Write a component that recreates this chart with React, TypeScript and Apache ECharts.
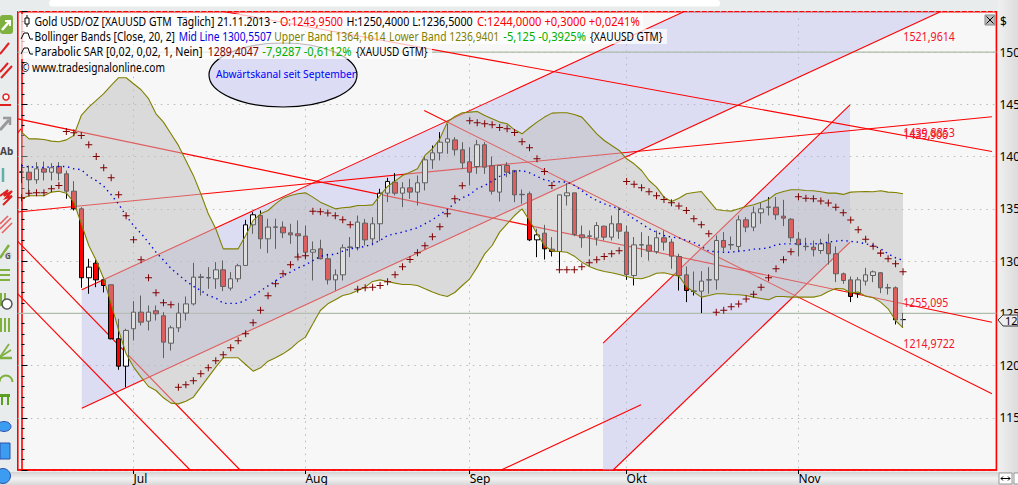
import React, { useEffect, useRef } from "react";
import * as echarts from "echarts";

// Trading days from 10 June 2013; the plot runs on 12 empty days past the last candle.
const monthStarts: Record<number, string> = { 15: "Jul", 38: "Aug", 60: "Sep", 81: "Okt", 104: "Nov" };
const categoryCount = 131;
const categories: string[] = [];
{
  const d = new Date(Date.UTC(2013, 5, 10));
  while (categories.length < categoryCount) {
    const wd = d.getUTCDay();
    if (wd !== 0 && wd !== 6) categories.push(d.toISOString().slice(0, 10));
    d.setUTCDate(d.getUTCDate() + 1);
  }
}

// open, close, low, high
const candles: number[][] = [
  [1385.1,1385.3,1374.6,1393],[1385.1,1377.8,1362.8,1391.5],[1377.8,1388.3,1374,1394.7],[1388.3,1385.1,1377.2,1395.3],
  [1385.1,1389.3,1377.2,1393.7],[1390.6,1384.2,1377.2,1394.7],[1383.5,1366.9,1359.6,1386.7],[1366.9,1350,1348.4,1376.5],
  [1350,1284,1274.4,1351.6],[1284,1294.2,1268.7,1302.2],[1298,1282,1275,1301.2],[1282,1276.6,1270,1284.6],
  [1277.3,1225.6,1225,1277.3],[1225.6,1199.4,1195.9,1244.7],[1199.4,1233.6,1179.3,1235.2],[1235.2,1251.1,1224,1261.6],
  [1251.1,1241.5,1238.3,1267],[1242.5,1251.1,1233.6,1257.5],[1252.4,1249.5,1243.1,1257.5],[1247.6,1222.4,1207.1,1251.1],
  [1221.4,1236.1,1214.4,1238.3],[1236.1,1250.2,1232,1260],[1250.2,1259,1243.1,1266.1],[1259,1284.6,1257.5,1298.3],
  [1284.3,1284.9,1267,1287.8],[1283.8,1284.2,1273.4,1294.2],[1283,1291.6,1273.4,1299],[1291.6,1275.7,1271.2,1300.6],
  [1274.1,1283,1271.8,1289.4],[1283,1295.5,1279.8,1297.4],[1295.8,1334.7,1295.8,1339.5],[1334.7,1344.3,1326.1,1346.8],
  [1343.6,1321.3,1311.7,1348.4],[1321.3,1332.5,1307.6,1340.5],[1332.3,1332.7,1311.7,1340.5],[1332.5,1327,1322,1337.9],
  [1327,1325.1,1316.5,1335.7],[1326.1,1324.2,1303.8,1338.9],[1323.9,1308.5,1303.8,1334.1],[1308.5,1310.8,1281.4,1318.8],
  [1311.7,1302.2,1301.6,1320.4],[1302.2,1282,1277.6,1307],[1282,1286.8,1271.8,1292],[1286.8,1312.7,1281.4,1316],
  [1313,1313.5,1303.7,1323],[1312.7,1337.3,1310.1,1343.6],[1336.3,1320.3,1314.9,1340.4],[1321.3,1335.7,1314.9,1342],
  [1335.7,1365,1319.1,1369.2],[1365,1376.2,1356.4,1379.7],[1375.5,1365,1362.8,1384.2],[1365,1370.1,1351.6,1375.5],
  [1370.1,1366,1359.6,1378.7],[1366,1374.9,1353.2,1381.9],[1374.9,1396.9,1367.6,1400.4],[1396.9,1403.6,1388.3,1410.6],
  [1403.6,1413.8,1396.3,1423.4],[1413.8,1417,1402.7,1431.4],[1416,1406.5,1401.1,1418.6],[1406.5,1394,1388.3,1413.8],
  [1395,1385.1,1372.4,1409],[1390.5,1411.3,1383.5,1416],[1411.3,1389.9,1383.5,1413.8],[1391.2,1366.9,1363.7,1400.1],
  [1366,1391.5,1357,1391.5],[1391.5,1385.1,1380.3,1394.7],[1386.7,1363.4,1356.4,1386.7],[1363.5,1363.9,1354.8,1368.5],
  [1364.4,1320.3,1319.1,1366.6],[1320.3,1325.1,1303.7,1330.9],[1326.7,1311.7,1301.5,1334.7],[1311.4,1309.2,1304.4,1322.9],
  [1309.2,1363.4,1291,1363.4],[1362.5,1365.3,1353.2,1374.6],[1365.3,1325.4,1323.8,1365.3],[1325.1,1322.3,1312.7,1334],
  [1323.7,1324.1,1304.7,1329.3],[1322,1334,1314.9,1337.3],[1333.4,1322.9,1319.7,1334],[1322.9,1335.7,1319.7,1343.6],
  [1335.7,1328.6,1321.3,1351.6],[1327.7,1287.2,1282,1334],[1286.2,1315.5,1276.6,1323],[1315.3,1315.7,1303.7,1327.7],
  [1315.2,1309.5,1300.5,1324],[1309,1322.3,1307,1329.3],[1322.3,1318.1,1310.1,1329.3],[1318.1,1304.7,1292.6,1321.3],
  [1304.4,1286.2,1271.8,1307],[1286.8,1271.8,1260.7,1294.8],[1271,1271.4,1267,1290],[1271.2,1280.8,1250.2,1290.4],
  [1281.8,1282.2,1268.7,1294.2],[1282,1319.7,1272.5,1324.5],[1319.7,1313.3,1309.5,1327.7],[1315.4,1315.8,1310.8,1323.5],
  [1314,1339.5,1308.5,1343.6],[1339.5,1332.5,1327.7,1342],[1332.5,1346.2,1328.6,1352.3],[1346.2,1350,1335.7,1356.4],
  [1351.4,1351.8,1343.6,1361.2],[1351.6,1344.3,1339.5,1361.2],[1343,1341.1,1333.4,1358.6],[1340.1,1322.3,1318.1,1341.1],
  [1321,1315.6,1304.4,1327.7],[1313.8,1314.2,1310.1,1322.3],[1313.3,1310.8,1304.4,1319.7],[1310.1,1316.5,1307,1321.3],
  [1317.2,1307,1296.7,1326.1],[1307,1287.8,1279.8,1314],[1287.8,1281.4,1278.2,1289],[1282,1266.1,1260.7,1285.2],
  [1268.7,1282,1264.8,1284.6],[1280.8,1286.8,1276.6,1293.5],[1286.2,1289.7,1279.8,1291],[1288.8,1274.4,1269.3,1289.4],
  [1274.2,1274.6,1268,1278.2],[1274.4,1243.8,1239.3,1275.7],[1243.95,1244,1236.5,1250.4],
];

const upperBand = [
  1423.5,1417,1417,1416.4,1414.8,1414.2,1416,1420.3,1439.4,1447.4,1453.8,1460.2,1468.1,1475.5,1475.5,1469.7,1464,1455.4,1441,1433,
  1421.9,1410.7,1396.3,1382,1364.4,1345.2,1330.9,1311.7,1311.7,1311.7,1324.5,1338.9,1345.2,1348.4,1354.8,1360.2,1362.8,1364.4,1365.3,1361.2,
  1356.4,1353.2,1350,1351,1351.6,1353.2,1353.2,1353.8,1362.8,1371.4,1376.5,1381.9,1385.1,1388.3,1401.1,1407.5,1417,1433,1438.4,1441.9,
  1442.6,1443.2,1439.4,1436.2,1433,1431.4,1425.6,1421.8,1427.6,1433,1437.8,1441.6,1441.9,1441.9,1440.3,1437.8,1429.8,1421.8,1415.4,1410.6,
  1405.9,1397.9,1393.1,1386.7,1377.1,1370.8,1361.2,1357,1360.2,1364.4,1365.7,1366.6,1358,1349.4,1348.4,1347.8,1350,1352.3,1353.9,1356.4,
  1359,1364.4,1366.6,1368.2,1368.2,1367.6,1367.3,1366.3,1365,1365,1363.8,1366,1366.3,1366.6,1366.3,1367.3,1366,1365.7,1364.4,
];
const lowerBand = [
  1359.6,1362.5,1362.5,1362.5,1366,1366.9,1365,1356.4,1335.7,1314.9,1300.6,1283,1259,1233.6,1211.2,1198.5,1188.9,1179.9,1176.1,1169.1,
  1164,1163.3,1165.9,1169.7,1179.3,1188.9,1198.5,1207.4,1207.4,1207.4,1201,1194.6,1197.8,1204.2,1207.4,1211.2,1216,1222.4,1227.2,1239.9,
  1252.7,1259.1,1262.9,1267.1,1268.7,1271.9,1275,1280.5,1282,1280.5,1278.9,1277.6,1277.6,1276.6,1273.4,1270.3,1267.7,1266.1,1269.9,1276.6,
  1283,1294.2,1306.9,1314.9,1327.7,1335.7,1343.6,1350,1338.8,1326.1,1314.9,1309.5,1309.2,1308.5,1304.7,1299,1294.8,1292,1290,1288.8,
  1287.2,1285.2,1283.6,1283,1285.2,1288.4,1288.8,1287.2,1285.6,1275.7,1270.3,1265.5,1267,1268.7,1268.7,1268,1267.7,1267,1265.5,1264.2,
  1262.9,1266.1,1266.1,1265.5,1265.5,1265.5,1265.5,1267,1270.9,1273.8,1273.4,1269.6,1270.3,1266.4,1264.8,1260.7,1254.3,1243.1,1236.1,
];
const midLine = [
  1391.5,1390,1390,1389.5,1390.4,1390.5,1390.5,1388.3,1387.5,1381,1377,1371.6,1363.5,1354.5,1343.3,1334,1326.5,1317.7,1308.5,1301,
  1293,1287,1281,1275.9,1271.8,1267,1264.7,1259.5,1259.5,1259.5,1262.7,1266.7,1271.5,1276.3,1281.1,1285.7,1289.4,1293.4,1296.3,1300.5,
  1304.5,1306.1,1306.4,1309.5,1311.7,1312.7,1314,1316.5,1319.7,1324.5,1326.1,1327.7,1329.9,1331.8,1335.7,1339.5,1344.6,1349.4,1355.4,1360.6,
  1363.7,1369.2,1372.4,1376.5,1381,1383.5,1385.8,1386.7,1384.5,1381,1377.8,1376.2,1375.9,1375.6,1372.4,1367.6,1361.8,1358,1354.8,1352.3,
  1350,1345.2,1340.4,1335.7,1330.9,1327.7,1324.5,1322.9,1322.3,1319.7,1317.8,1314,1309.5,1308.9,1308.5,1308.5,1309.5,1310.1,1311.4,1311.7,
  1312.7,1315.6,1316.5,1316.5,1316.5,1316.5,1316.5,1316.8,1318.1,1319.1,1319.7,1318.8,1318.1,1316.5,1314.9,1311.7,1307,1303.1,1300.6,
];
const parabolicSar = [
  1360.6,1365,1365.3,1365.3,1369.2,1372.4,1424.1,1422.8,1420.3,1411.3,1400.2,1389.3,1379.7,1363.4,1343.3,1320.4,1301.2,1284,1269.6,1260,
  1258.1,1179.3,1181.5,1185.4,1192.1,1197.8,1204.5,1210.3,1217,1223.7,1230.4,1240.9,1253,1266.7,1278.2,1287.8,1296.4,1303.8,1305,1347.8,
  1347.2,1345.9,1343.3,1339.5,1334.7,1273.1,1274.4,1275,1276.6,1280.1,1286.8,1294.5,1301.5,1307.9,1314.6,1323.2,1332.8,1345.2,1359.6,1372,
  1434.3,1432.3,1431.4,1430.4,1427.9,1426.6,1423.1,1414.2,1408.4,1397.9,1385.8,1372.4,1291.6,1291.6,1291.6,1294.5,1298.3,1301.2,1304.4,1306.9,
  1309.8,1376.2,1373.6,1370.1,1366.3,1362.5,1358.9,1355.8,1352.6,1348.4,1340.5,1334.7,1326.1,1251.1,1253,1256.2,1258.8,1263.6,1268.3,1275,
  1284,1292.6,1301.2,1308.9,1361.5,1360.2,1359.6,1357.4,1355.5,1351.6,1346.2,1339.2,1329.9,1321,1314.3,1307.6,1302.2,1297.4,1289.7,
];

// Drawn tools, as [bar index, price] end points.
const trendLines: number[][][] = [
  [[-0.5, 1436.1], [129.9, 1241.5]],
  [[8.06, 1272.5], [89, 1539.8]],
  [[8.06, 1159.2], [123, 1538.7]],
  [[-0.5, 1346.9], [129.9, 1438.2]],
  [[27.2, 1538.7], [129.9, 1404.9]],
  [[53.9, 1444.2], [129.9, 1173]],
  [[77.85, 1221.4], [110.9, 1449.6]],
  [[79.2, 1100], [110.9, 1318]],
  [[-0.5, 1318.8], [29.25, 1100]],
  [[-0.5, 1268.5], [22.56, 1100]],
  [[64.2, 1100], [82.93, 1162.5]],
  [[-0.5, 1422.7], [-0.07, 1426.5]],
];
const channelFills: number[][][] = [
  [[8.06, 1272.5], [88.5, 1538.7], [123, 1538.7], [8.06, 1159.2]],
  [[77.85, 1221.4], [110.9, 1449.6], [110.9, 1318], [79.2, 1100], [77.85, 1100]],
];
const referenceLevels = [1500, 1250];
// text, left, right, centre y
const lineLabels: [string, number, number, number][] = [
  ["1521,9614", 903.3, 955, 36],
  ["1439,8853", 903.3, 955, 132],
  ["1435,906", 903.3, 948, 134.5],
  ["1255,095", 903.3, 948.3, 302],
  ["1214,9722", 903.3, 955, 343],
];

const FONT = '"Noto Sans", Tahoma, sans-serif';
const RED_TXT = "#f4142c";
const legendRows: [string, number, number, number, string][] = [
  ["Gold USD/OZ [XAUUSD GTM  Täglich] 21.11.2013 -", 34.5, 276.5, 21, "#000000"],
  ["O:1243,9500", 280, 343, 21, "#ff0000"],
  ["H:1250,4000 L:1236,5000", 346.5, 473, 21, "#000000"],
  ["C:1244,0000 +0,3000 +0,0241%", 477, 640, 21, "#ff0000"],
  ["Bollinger Bands [Close, 20, 2]", 34.5, 175, 36, "#000000"],
  ["Mid Line 1300,5507", 178.7, 271.7, 36, "#0000e0"],
  ["Upper Band 1364,1614", 274.3, 385.7, 36, "#808000"],
  ["Lower Band 1236,9401", 389, 499.3, 36, "#808000"],
  ["-5,125 -0,3925%", 503.3, 586, 36, "#00b000"],
  ["{XAUUSD GTM}", 590, 662.7, 36, "#000000"],
  ["Parabolic SAR [0,02, 0,02, 1, Nein]", 34.5, 202.7, 51, "#000000"],
  ["1289,4047", 207.7, 259, 51, "#800000"],
  ["-7,9287 -0,6112%", 262.3, 351.7, 51, "#00b000"],
  ["{XAUUSD GTM}", 356, 427.7, 51, "#000000"],
  ["© www.tradesignalonline.com", 21, 165, 67, "#000000"],
];

const measureCtx = document.createElement("canvas").getContext("2d")!;
const txt = (text: string, x: number, y: number, fill: string, fontSize = 12, extra: any = {}) => ({
  type: "text", x, y, z: 70, silent: true,
  style: { text, fill, fontSize, fontFamily: FONT, verticalAlign: "middle", ...extra },
});
// A text squeezed to the width it has in the reference.
const fitTxt = (text: string, x1: number, x2: number, y: number, fill: string, fontSize = 12) => {
  measureCtx.font = `${fontSize}px ${FONT}`;
  const w = measureCtx.measureText(text).width || 1;
  return { ...txt(text, x1, y, fill, fontSize), scaleX: (x2 - x1) / w };
};
const rect = (x: number, y: number, w: number, h: number, fill: any, z = 60, extra: any = {}) => ({
  type: "rect", z, silent: true, shape: { x, y, width: w, height: h, ...(extra.shape || {}) },
  style: { fill, ...(extra.style || {}) },
});
const pl = (pts: number[][], stroke: string, lineWidth = 1.5, z = 70) => ({
  type: "polyline", z, silent: true, shape: { points: pts }, style: { stroke, lineWidth, fill: "none" },
});
const ln = (x1: number, y1: number, x2: number, y2: number, stroke: string, lineWidth = 1.5, z = 70) => ({
  type: "line", z, silent: true, shape: { x1, y1, x2, y2 }, style: { stroke, lineWidth },
});

const GREEN = "#7fb13f";
const toolbar: any[] = [
  rect(0, 15, 13, 19, GREEN, 70, { shape: { r: 3 } }),
  pl([[2, 30], [9, 22]], "#ffffff", 2.5), pl([[5, 21], [10, 21], [10, 26]], "#ffffff", 2),
  ln(0, 54, 9, 43, "#e02020", 2),
  ln(0, 72, 8, 63, "#e02020", 2), ln(1, 78, 12, 66, "#e02020", 2),
  { type: "circle", z: 70, silent: true, shape: { cx: 6, cy: 97, r: 3 }, style: { fill: "#ffffff", stroke: "#e02020", lineWidth: 1.5 } },
  ln(0, 105, 11, 105, "#e02020", 2),
  ln(0, 130, 9, 120, "#999999", 3), pl([[3, 118], [10, 118], [10, 125]], "#999999", 2.5),
  txt("Ab", 0, 151, "#444444", 10, { fontWeight: "bold" }),
  ln(3, 168, 3, 182, "#62b0ae", 2.5),
  pl([[0, 196], [8, 190], [4, 196], [12, 191], [6, 198], [12, 196], [3, 205]], "#e02020", 2),
  ln(0, 224, 8, 216, "#e86060", 1.6), ln(0, 229, 11, 218, "#e86060", 1.6), ln(2, 233, 12, 223, "#e86060", 1.6),
  ln(0, 258, 9, 245, GREEN, 2.5),
  { type: "circle", z: 70, silent: true, shape: { cx: 8, cy: 255, r: 4 }, style: { fill: "#dddddd" } },
  txt("G", 5, 255.5, "#555555", 8, { fontWeight: "bold" }),
  rect(0, 269, 10, 2, GREEN, 70), rect(0, 274, 10, 2, GREEN, 70), rect(0, 279, 10, 2, GREEN, 70),
  rect(0, 293, 2, 13, GREEN, 70), rect(4, 293, 2, 13, GREEN, 70),
  { type: "circle", z: 70, silent: true, shape: { cx: 7, cy: 304, r: 5 }, style: { fill: "#ffffff", stroke: "#555555", lineWidth: 1.5 } },
  rect(0, 318, 2, 14, GREEN, 70), rect(4, 318, 2, 14, GREEN, 70), rect(8, 318, 2, 14, GREEN, 70),
  ln(0, 358, 12, 358, GREEN, 2.5), ln(0, 357, 9, 344, GREEN, 1.8), ln(0, 357, 11, 350, GREEN, 1.8),
  { type: "arc", z: 70, silent: true, shape: { cx: 6, cy: 382, r: 6.5, startAngle: Math.PI, endAngle: 0 }, style: { stroke: GREEN, lineWidth: 2, fill: "none" } },
  rect(0, 394, 10, 3, "#5aa020", 70), pl([[2, 397], [2, 405]], "#5aa020", 2), pl([[8, 397], [8, 405]], "#5aa020", 2),
  { type: "ellipse", z: 70, silent: true, shape: { cx: 4, cy: 426.5, rx: 7, ry: 5 }, style: { fill: "#3c9cf0", stroke: "#2c50b0", lineWidth: 1 } },
  rect(0, 443, 10, 16, "#3c9cf0", 70, { style: { stroke: "#2c50b0", lineWidth: 1 } }),
  { type: "circle", z: 70, silent: true, shape: { cx: 3, cy: 476, r: 7.5 }, style: { fill: "#3c9cf0", stroke: "#2c50b0", lineWidth: 1 } },
];

function App() {
  const ref = useRef<HTMLDivElement | null>(null);
  useEffect(() => {
    const chart = echarts.init(ref.current!, undefined, { renderer: "svg" });
    const isMonth = (i: number) => monthStarts[i] !== undefined;
    const dotted = { color: "#b4bcb4", width: 1, type: [1.5, 5] as any };

    const series: any[] = [];
    series.push({
      type: "custom", xAxisIndex: 1, yAxisIndex: 0, z: 1, silent: true, clip: true,
      data: channelFills.map((_, i) => [i]),
      renderItem: (params: any, api: any) => ({
        type: "polygon",
        shape: { points: channelFills[params.dataIndex].map((p) => api.coord(p)) },
        style: { fill: "rgba(180,180,237,0.4)" },
      }),
    });
    referenceLevels.forEach((level) =>
      series.push({
        type: "line", xAxisIndex: 1, yAxisIndex: 0, z: 2, silent: true, showSymbol: false,
        data: [[-0.5, level], [130.5, level]],
        lineStyle: { color: "#aebcaa", width: 1.2 },
      })
    );
    trendLines.forEach((seg) =>
      series.push({
        type: "line", xAxisIndex: 1, yAxisIndex: 0, z: 2, silent: true, showSymbol: false, clip: true,
        data: seg, lineStyle: { color: "#ff0000", width: 1.1 },
      })
    );
    series.push({
      type: "candlestick", xAxisIndex: 0, yAxisIndex: 0, z: 3, barWidth: 5, silent: true,
      data: candles,
      itemStyle: { color: "#ffffff", color0: "#ff0000", borderColor: "#000000", borderColor0: "#000000", borderWidth: 1 },
    });
    series.push({
      type: "line", xAxisIndex: 0, yAxisIndex: 0, z: 4, stack: "bb", silent: true, showSymbol: false,
      data: lowerBand, lineStyle: { width: 0, opacity: 0 }, areaStyle: { opacity: 0 },
    });
    series.push({
      type: "line", xAxisIndex: 0, yAxisIndex: 0, z: 4, stack: "bb", silent: true, showSymbol: false,
      data: upperBand.map((u, i) => u - lowerBand[i]),
      lineStyle: { width: 0, opacity: 0 },
      areaStyle: { color: "rgba(190,190,190,0.5)", opacity: 1 },
    });
    [upperBand, lowerBand].forEach((band) =>
      series.push({
        type: "line", xAxisIndex: 0, yAxisIndex: 0, z: 5, silent: true, showSymbol: false,
        data: band, lineStyle: { color: "#808000", width: 1.1 },
      })
    );
    series.push({
      type: "line", xAxisIndex: 0, yAxisIndex: 0, z: 5, silent: true, showSymbol: false,
      data: midLine, lineStyle: { color: "#0000e0", width: 1.4, type: [1.4, 3.8] },
    });
    series.push({
      type: "scatter", xAxisIndex: 0, yAxisIndex: 0, z: 6, silent: true,
      symbol: "path://M3,0H4V3H7V4H4V7H3V4H0V3H3Z", symbolSize: 7,
      data: parabolicSar, itemStyle: { color: "#800000", opacity: 1 },
    });

    chart.setOption({
      animation: false,
      backgroundColor: "#e8ecec",
      textStyle: { fontFamily: FONT },
      grid: {
        left: 17.8, top: 11.7, width: 978.6, height: 458.3, outerBoundsMode: "none", containLabel: false,
        show: true, backgroundColor: "#f7f7f7", borderColor: "#ff0000", borderWidth: 1.6,
      },
      xAxis: [
        {
          type: "category", data: categories, position: "bottom",
          axisLine: { show: true, lineStyle: { color: "#ff0000", width: 1.6 } },
          axisTick: { show: true, alignWithLabel: true, length: 4, interval: (i: number) => isMonth(i), lineStyle: { color: "#000000" } },
          axisLabel: {
            interval: (i: number) => isMonth(i),
            formatter: (_: string, i: number) => monthStarts[i] ?? "",
            align: "left", color: "#000000", fontSize: 12, fontFamily: FONT, margin: 2,
          },
          splitLine: { show: true, alignWithLabel: true, interval: (i: number) => isMonth(i), lineStyle: dotted },
        },
        { type: "value", show: false, min: -0.5, max: 130.5, position: "bottom", splitLine: { show: false } },
      ],
      yAxis: {
        type: "value", position: "right", min: 1100, max: 1538.7, interval: 50,
        axisLine: { show: true, lineStyle: { color: "#ff0000", width: 1.6 } },
        axisTick: { show: true, length: 6, lineStyle: { color: "#000000" } },
        minorTick: { show: true, splitNumber: 5, length: 3, lineStyle: { color: "#000000" } },
        axisLabel: {
          color: "#000000", fontSize: 12, fontFamily: FONT, margin: 3, showMaxLabel: false, showMinLabel: false,
          formatter: (v: number) => String(v),
        },
        splitLine: { show: true, lineStyle: dotted },
        minorSplitLine: { show: false },
      },
      series,
      graphic: [
        rect(0, 472, 1018, 13, { type: "linear", x: 0, y: 0, x2: 0, y2: 1, colorStops: [
          { offset: 0, color: "#d4d4d4" }, { offset: 0.5, color: "#f2f2f2" }, { offset: 1, color: "#d8d8d8" } ] }, -1),
        rect(998, 0, 20, 472, { type: "linear", x: 0, y: 0, x2: 1, y2: 0, colorStops: [
          { offset: 0, color: "#f0f0f0" }, { offset: 1, color: "#dcdcdc" } ] }, -1),
        rect(49, 0, 671, 6.5, "#ffffff", -1, { shape: { r: 3 } }),
        ...toolbar,
        {
          type: "ellipse", z: 50, silent: true, shape: { cx: 283, cy: 75, rx: 74, ry: 32 },
          style: { fill: "#dcdcf4", stroke: "#000000", lineWidth: 1.2 },
        },
        fitTxt("Abwärtskanal seit September", 216, 356, 73, "#0000ff", 11.5),
        rect(20, 14, 623, 15, "rgba(255,255,255,0.72)"),
        rect(20, 29, 647, 15, "rgba(255,255,255,0.72)"),
        rect(20, 44, 412, 15, "rgba(255,255,255,0.72)"),
        ...legendRows.map(([t, x1, x2, y, c]) => fitTxt(t, x1, x2, y, c, 12)),
        ln(27, 15, 27, 27, "#000000", 1), rect(25, 18, 4, 6, "#ffffff", 70, { style: { stroke: "#000000", lineWidth: 1 } }),
        pl([[21, 39], [24, 33], [28, 33], [30, 39], [33, 39]], "#000000", 1),
        pl([[21, 54], [24, 48], [28, 48], [30, 54], [33, 54]], "#000000", 1),
        ...lineLabels.map(([t, x1, x2, y]) => fitTxt(t, x1, x2, y, RED_TXT, 12)),
        rect(985, 15, 10, 10, "#bdbdbd", 70, { style: { stroke: "#888888", lineWidth: 1 } }),
        ln(986.5, 16.5, 993.5, 23.5, "#000000", 1), ln(993.5, 16.5, 986.5, 23.5, "#000000", 1),
        txt("$", 1000, 21, "#000000", 12),
        {
          type: "polygon", z: 70, silent: true,
          shape: { points: [[998, 320], [1003, 315], [1018, 315], [1018, 326], [1003, 326]] },
          style: { fill: "#eeeeee", stroke: "#333333", lineWidth: 1 },
        },
        txt("1244,0000", 1005, 320.5, "#000000", 11),
        rect(999, 473, 13, 11, "#ffffff", 70, { style: { stroke: "#999999", lineWidth: 1 } }),
        ln(1001, 478.5, 1010, 478.5, "#000000", 1),
        pl([[1003, 476.5], [1001, 478.5], [1003, 480.5]], "#000000", 1),
        pl([[1008, 476.5], [1010, 478.5], [1008, 480.5]], "#000000", 1),
        rect(1014, 473, 8, 11, "#ffffff", 70, { style: { stroke: "#999999", lineWidth: 1 } }),
      ],
    });
    return () => chart.dispose();
  }, []);
  return <div ref={ref} style={{ position: "absolute", left: 0, top: 0, width: 1018, height: 485, overflow: "hidden" }} />;
}

export default App;
